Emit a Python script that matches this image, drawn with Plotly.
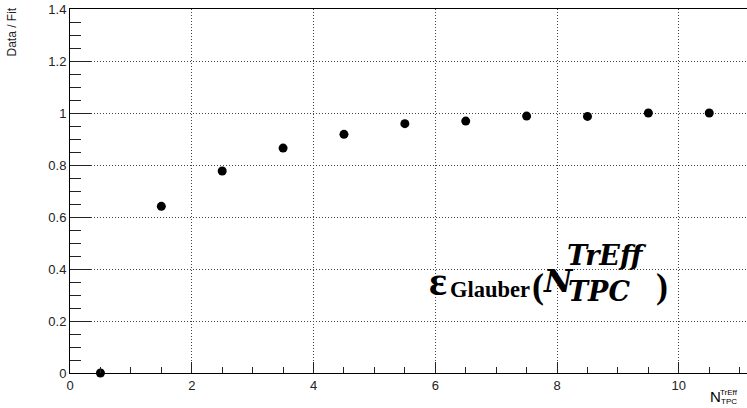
import plotly.graph_objects as go

x_vals = [0.5, 1.5, 2.5, 3.5, 4.5, 5.5, 6.5, 7.5, 8.5, 9.5, 10.5]
y_vals = [0.0, 0.641, 0.777, 0.865, 0.918, 0.959, 0.969, 0.988, 0.987, 1.0, 1.0]
x_ticks = [0, 2, 4, 6, 8, 10]
y_ticks = [0, 0.2, 0.4, 0.6, 0.8, 1, 1.2, 1.4]
y_tick_text = ["0", "0.2", "0.4", "0.6", "0.8", "1", "1.2", "1.4"]

W, H = 747, 408
L, R, T, B = 70, 0, 9, 35

fig = go.Figure()
fig.add_trace(go.Scatter(
    x=x_vals, y=y_vals, mode="markers",
    marker=dict(color="black", size=9, symbol="circle"),
    cliponaxis=False, showlegend=False,
))

axis_font = dict(family="Liberation Sans, Arial, sans-serif", size=13, color="#222")
grid_dash = "1px,2px"
fig.update_layout(
    width=W, height=H,
    margin=dict(l=L, r=R, t=T, b=B, pad=0),
    paper_bgcolor="white", plot_bgcolor="white",
    font=axis_font,
)
fig.update_xaxes(
    range=[0, 11.12], tickvals=x_ticks, ticktext=[str(v) for v in x_ticks],
    showline=True, linecolor="black", linewidth=1, mirror=True,
    ticks="inside", ticklen=11, tickcolor="#222", tickwidth=1,
    showgrid=True, gridcolor="#444", griddash=grid_dash, gridwidth=1,
    zeroline=False, tickfont=axis_font,
    minor=dict(dtick=0.5, tick0=0, ticks="inside", ticklen=6, tickcolor="#222", showgrid=False),
)
fig.update_yaxes(
    range=[0, 1.4], tickvals=y_ticks, ticktext=y_tick_text,
    showline=True, linecolor="black", linewidth=1, mirror=True,
    ticks="inside", ticklen=21, tickcolor="#222", tickwidth=1,
    showgrid=True, gridcolor="#444", griddash=grid_dash, gridwidth=1,
    zeroline=False, tickfont=axis_font,
    minor=dict(dtick=0.05, tick0=0, ticks="inside", ticklen=11, tickcolor="#222", showgrid=False),
)

def px(xp):
    return (xp - L) / (W - L - R)

def py(yp):
    return (H - B - yp) / (H - T - B)

serif = "Liberation Serif, Times New Roman, serif"
math = "DejaVu Serif, serif"
sans = "Liberation Sans, Arial, sans-serif"
anns = [
    dict(text="<b>ε</b>", x=428, y=281, size=42, font=serif),
    dict(text="<b>Glauber</b>", x=449, y=289, size=22.5, font=serif),
    dict(text="<b>(</b>", x=531, y=286, size=36, font=serif),
    dict(text="<b><i>N</i></b>", x=542, y=281, size=31, font=math),
    dict(text="<b><i>TrEff</i></b>", x=566, y=255, size=27, font=math),
    dict(text="<b><i>TPC</i></b>", x=567, y=291, size=27, font=math),
    dict(text="<b>)</b>", x=655, y=286, size=36, font=serif),
    dict(text="N", x=709, y=396, size=15, font=sans),
    dict(text="TrEff", x=719, y=392, size=8, font=sans),
    dict(text="TPC", x=720, y=401, size=8, font=sans),
]
for a in anns:
    fig.add_annotation(
        text=a["text"], x=px(a["x"]), y=py(a["y"]), xref="paper", yref="paper",
        xanchor="left", yanchor="middle", showarrow=False, borderpad=0,
        font=dict(family=a["font"], size=a["size"], color="black"),
    )

fig.add_annotation(
    text="Data / Fit", textangle=-90, x=px(11), y=py(6),
    xref="paper", yref="paper", xanchor="center", yanchor="top",
    showarrow=False, font=dict(family=sans, size=12, color="#222"),
)

fig.write_html("out.html")
